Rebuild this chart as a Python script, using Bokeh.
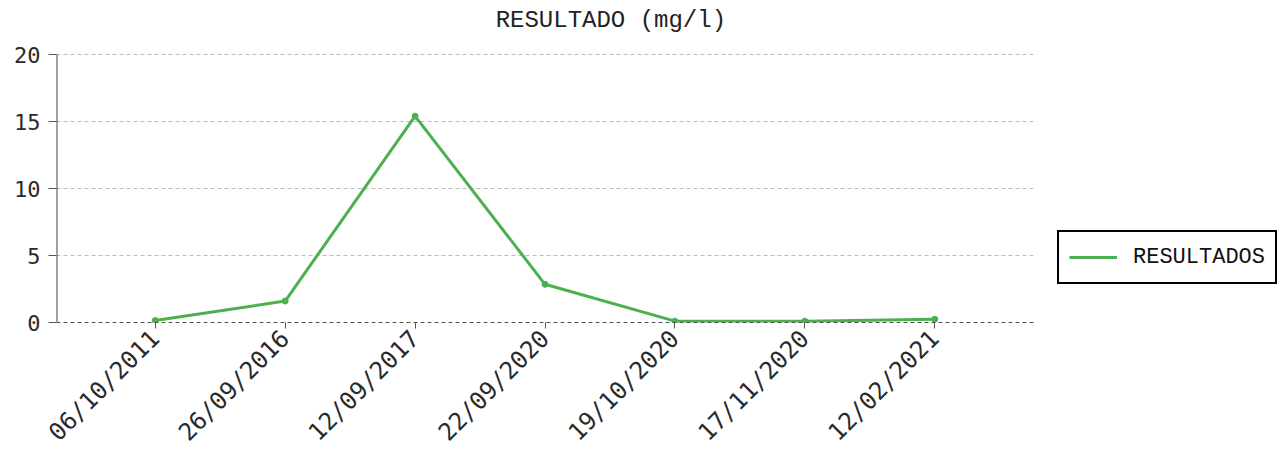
import math
from bokeh.plotting import figure
from bokeh.models import Legend, LegendItem, FixedTicker, Range1d, ColumnDataSource, Label
from bokeh.embed import file_html
from bokeh.resources import INLINE

dates = ["06/10/2011", "26/09/2016", "12/09/2017", "22/09/2020", "19/10/2020", "17/11/2020", "12/02/2021"]
resultados = [0.15, 1.6, 15.4, 2.85, 0.1, 0.1, 0.25]
y_ticks = [0, 5, 10, 15, 20]
title_text = "RESULTADO (mg/l)"

idx = list(range(len(dates)))
src = ColumnDataSource(dict(x=idx, y=resultados))

xr = Range1d(-0.76, 6.76)
yr = Range1d(0, 24.03)   # headroom above 20 holds the title
p = figure(frame_width=977, frame_height=322, output_backend="svg", toolbar_location=None,
           x_range=xr, y_range=yr,
           min_border_left=56, min_border_top=0, min_border_right=248, min_border_bottom=136)

p.outline_line_color = None
p.background_fill_color = "white"

p.add_layout(Label(x=2.62, y=22.54, text=title_text, text_align="left", text_baseline="middle",
                   text_font="Liberation Mono", text_font_size="24px", text_color="#222222"))

p.xgrid.grid_line_color = None
p.ygrid.grid_line_color = "#bbbbbb"
p.ygrid.grid_line_dash = "4 3"
p.ygrid.grid_line_width = 1

# y axis line only from 0 to the top tick
p.segment(x0=[xr.start], y0=[y_ticks[0]], x1=[xr.start], y1=[y_ticks[-1]],
          line_color="#444444", line_width=2)

green = "#4cb050"
r_line = p.line("x", "y", source=src, line_color=green, line_width=3)
r_pts = p.scatter("x", "y", source=src, size=6, fill_color=green, line_color=green)

p.xaxis.ticker = FixedTicker(ticks=idx)
p.xaxis.major_label_overrides = {i: d for i, d in enumerate(dates)}
p.xaxis.major_label_orientation = math.pi / 4
p.xaxis.major_label_text_font = "DejaVu Sans Mono"
p.xaxis.major_label_text_font_size = "24px"
p.xaxis.major_label_text_color = "#2a2a2a"
p.xaxis.major_label_standoff = 6
p.xaxis.axis_line_color = "#555555"
p.xaxis.axis_line_dash = "4 3"
p.xaxis.major_tick_line_color = "#555555"
p.xaxis.major_tick_in = 0
p.xaxis.major_tick_out = 6
p.xaxis.minor_tick_line_color = None

p.yaxis.ticker = FixedTicker(ticks=y_ticks)
p.yaxis.major_label_text_font = "DejaVu Sans Mono"
p.yaxis.major_label_text_font_size = "22px"
p.yaxis.major_label_text_color = "#2a2a2a"
p.yaxis.major_label_standoff = 8
p.yaxis.axis_line_color = None
p.yaxis.major_tick_line_color = "#555555"
p.yaxis.major_tick_in = 0
p.yaxis.major_tick_out = 8
p.yaxis.minor_tick_line_color = None

legend = Legend(items=[LegendItem(label="RESULTADOS", renderers=[r_line])],
                location=(24, 38))
legend.label_text_font = "Liberation Mono"
legend.label_text_font_size = "22px"
legend.label_text_color = "#111111"
legend.border_line_color = "black"
legend.border_line_alpha = 1.0
legend.border_line_width = 2
legend.glyph_width = 48
legend.label_height = 30
legend.glyph_height = 30
legend.padding = 10
legend.margin = 0
legend.spacing = 0
legend.label_standoff = 16
p.add_layout(legend, "right")

open("out.html", "w").write(file_html(p, INLINE))
